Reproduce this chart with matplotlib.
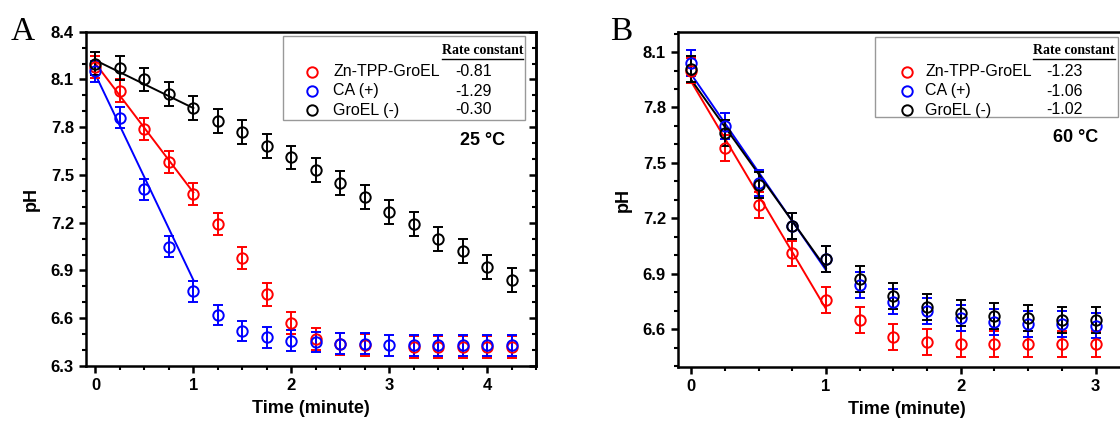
import numpy as np
import matplotlib
matplotlib.use("Agg")
import matplotlib.pyplot as plt
from matplotlib.lines import Line2D
from matplotlib.patches import Rectangle
from matplotlib.ticker import MultipleLocator

plt.rcParams["font.family"] = ["Liberation Sans", "DejaVu Sans"]

series_names = ["Zn-TPP-GroEL", "CA (+)", "GroEL (-)"]
series_colors = ["red", "blue", "black"]

# panel A, 25 C
time_a = [0, 0.25, 0.5, 0.75, 1.0, 1.25, 1.5, 1.75, 2.0, 2.25, 2.5, 2.75,
          3.0, 3.25, 3.5, 3.75, 4.0, 4.25]
ph_a_zn = [8.18, 8.03, 7.79, 7.58, 7.38, 7.19, 6.98, 6.75, 6.57, 6.47, 6.44, 6.43,
           np.nan, 6.42, 6.42, 6.42, 6.42, 6.42]
ph_a_ca = [8.15, 7.86, 7.41, 7.05, 6.77, 6.62, 6.52, 6.48, 6.46, 6.45, 6.44, 6.44,
           6.43, 6.43, 6.43, 6.43, 6.43, 6.43]
ph_a_groel = [8.20, 8.17, 8.10, 8.01, 7.92, 7.84, 7.77, 7.68, 7.61, 7.53, 7.45, 7.36,
              7.27, 7.19, 7.10, 7.02, 6.92, 6.84]
err_a = [0.07, 0.065, 0.075]
rate_a = [-0.81, -1.29, -0.30]
icpt_a = [8.20, 8.13, 8.22]

# panel B, 60 C
time_b = [0, 0.25, 0.5, 0.75, 1.0, 1.25, 1.5, 1.75, 2.0, 2.25, 2.5, 2.75, 3.0]
ph_b_zn = [8.00, 7.58, 7.27, 7.01, 6.76, 6.65, 6.56, 6.53, 6.52, 6.52, 6.52, 6.52, 6.52]
ph_b_ca = [8.04, 7.70, 7.39, 7.16, 6.98, 6.84, 6.75, 6.70, 6.66, 6.64, 6.63, 6.63, 6.62]
ph_b_groel = [8.01, 7.66, 7.38, 7.16, 6.98, 6.87, 6.78, 6.72, 6.69, 6.67, 6.66, 6.65, 6.65]
err_b = [0.07, 0.07, 0.07]
rate_b = [-1.23, -1.06, -1.02]
icpt_b = [7.94, 7.98, 7.95]

W, H = 1120, 423
fig = plt.figure(figsize=(W / 100, H / 100), dpi=100)


def fx(x, y):
    return x / W, 1 - y / H


def draw_panel(ax, t, series, errs, rates, icpts):
    for ys, c, e, k, b0 in zip(series, series_colors, errs, rates, icpts):
        ax.errorbar(t, ys, yerr=e, fmt="o", mfc="none", mec=c, ecolor=c, ms=7.5,
                    mew=1.4, elinewidth=1.4, capsize=3.5, capthick=1.4, zorder=3)
        tf = np.array([0.0, 1.0])
        ax.plot(tf, b0 + k * tf, color=c, lw=1.4, zorder=2)
    for s in ax.spines.values():
        s.set_linewidth(1.8)
    ax.xaxis.set_minor_locator(MultipleLocator(0.25))
    ax.yaxis.set_minor_locator(MultipleLocator(0.1))
    ax.tick_params(which="major", direction="out", length=5, width=1.8,
                   labelsize=12)
    ax.tick_params(which="minor", direction="out", length=3, width=1.5)
    ax.set_xlabel("Time (minute)", fontsize=13, fontweight="bold", labelpad=5)
    ax.set_ylabel("pH", fontsize=13, fontweight="bold", labelpad=8)


def draw_legend(box, marker_x, label_x, value_x, rows_y, head, rates):
    x0, y0, x1, y1 = box
    fig.add_artist(Rectangle(fx(x0, y1), (x1 - x0) / W, (y1 - y0) / H,
                             transform=fig.transFigure, fill=True, fc="white",
                             ec="#999999", lw=1.0, zorder=5))
    hx0, hx1, hy = head
    fig.text(*fx((hx0 + hx1) / 2, hy), "Rate constant", ha="center", va="center",
             family="Liberation Serif", fontweight="bold", fontsize=10, zorder=6)
    fig.add_artist(Line2D([hx0 / W, hx1 / W], [1 - (hy + 8) / H] * 2,
                          transform=fig.transFigure, color="black", lw=1.0,
                          zorder=6))
    for name, c, r, y in zip(series_names, series_colors, rates, rows_y):
        fig.add_artist(Line2D([marker_x / W], [1 - y / H], marker="o", ms=7.5,
                              mfc="none", mec=c, mew=1.4, ls="none",
                              transform=fig.transFigure, zorder=6))
        fig.text(*fx(label_x, y), name, ha="left", va="center", fontsize=11.5,
                 zorder=6)
        fig.text(*fx(value_x, y), f"{r:.2f}", ha="right", va="center",
                 fontsize=11.5, zorder=6)


# panel A
ax_a = fig.add_axes([85.7 / W, 1 - 366 / H, (536 - 85.7) / W, (366 - 31.7) / H])
draw_panel(ax_a, time_a, [ph_a_zn, ph_a_ca, ph_a_groel], err_a, rate_a, icpt_a)
ax_a.set_xlim(-0.1, 4.5)
ax_a.set_ylim(6.3, 8.4)
ax_a.set_xticks([0, 1, 2, 3, 4])
ax_a.set_yticks(np.arange(6.3, 8.41, 0.3))
ax_a.set_yticklabels([f"{v:.1f}" for v in np.arange(6.3, 8.41, 0.3)],
                     fontweight="bold")
ax_a.set_xticklabels(["0", "1", "2", "3", "4"], fontweight="bold")
sec = ax_a.secondary_yaxis("right")
sec.yaxis.set_minor_locator(MultipleLocator(0.1))
sec.set_yticks(np.arange(6.3, 8.41, 0.3))
sec.tick_params(which="major", direction="in", length=5, width=1.8,
                labelright=False)
sec.tick_params(which="minor", direction="in", length=3, width=1.5)
sec.spines["right"].set_linewidth(1.8)

# panel B
ax_b = fig.add_axes([677.7 / W, 1 - 367.3 / H, (1136 - 677.7) / W,
                     (367.3 - 31.7) / H])
draw_panel(ax_b, time_b, [ph_b_zn, ph_b_ca, ph_b_groel], err_b, rate_b, icpt_b)
ax_b.set_xlim(-0.1, 3.3)
ax_b.set_ylim(6.394, 8.21)
ax_b.set_xticks([0, 1, 2, 3])
ax_b.set_yticks(np.arange(6.6, 8.11, 0.3))
ax_b.set_yticklabels([f"{v:.1f}" for v in np.arange(6.6, 8.11, 0.3)],
                     fontweight="bold")
ax_b.set_xticklabels(["0", "1", "2", "3"], fontweight="bold")

draw_legend((283, 36, 525, 120), 311.7, 333, 492, [72, 91, 110], (442, 523, 51),
            rate_a)
draw_legend((875, 37, 1118, 117), 907, 925, 1083, [72, 91, 110], (1033, 1115, 51),
            rate_b)

fig.text(*fx(483, 140), "25 \u00b0C", ha="center", va="center", fontsize=13,
         fontweight="bold")
fig.text(*fx(1076, 137), "60 \u00b0C", ha="center", va="center", fontsize=13,
         fontweight="bold")

fig.text(*fx(23, 32), "A", ha="center", va="center", family="Liberation Serif",
         fontsize=24)
fig.text(*fx(621, 32), "B", ha="center", va="center", family="Liberation Serif",
         fontsize=24)

fig.savefig("out.png", dpi=100)
